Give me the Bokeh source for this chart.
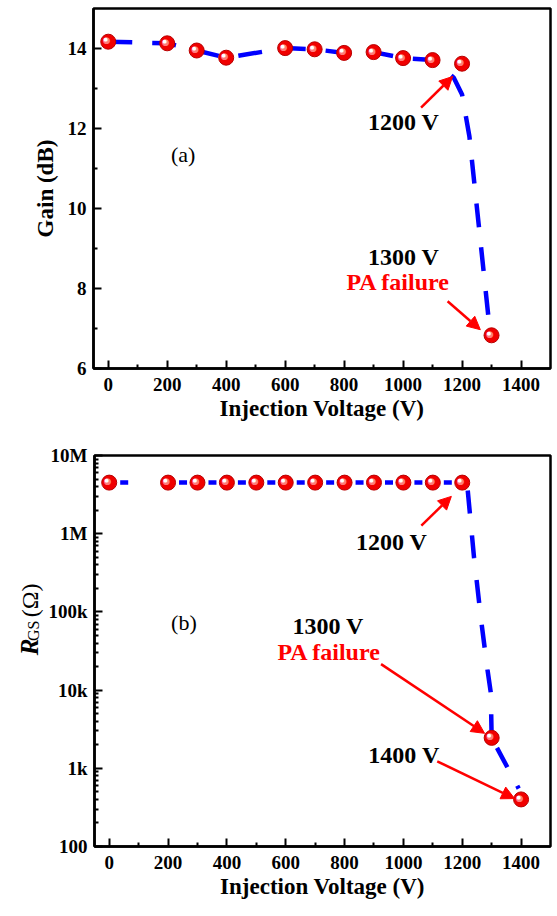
from math import pi
from bokeh.plotting import figure
from bokeh.layouts import column, row
from bokeh.models import Range1d, FixedTicker, Arrow, NormalHead, ColumnDataSource
from bokeh.core.properties import value
from bokeh.embed import file_html
from bokeh.resources import INLINE

# ---------------- data: panel (a) ----------------
gain_voltage = [0, 200, 300, 400, 600, 700, 800, 900, 1000, 1100, 1200, 1300]
gain_db = [14.17, 14.13, 13.95, 13.77, 14.01, 13.98, 13.89, 13.91, 13.76, 13.71, 13.62, 6.83]
# dashed guide line (drawn separately in the original, bends before 1200 V)
gain_line_voltage = [0, 200, 300, 400, 600, 700, 800, 900, 1000, 1100, 1172, 1200, 1225, 1295]
gain_line_db = [14.17, 14.13, 13.95, 13.77, 14.01, 13.98, 13.89, 13.91, 13.76, 13.71, 13.27, 12.85, 11.80, 6.90]

# ---------------- data: panel (b) ----------------
rgs_voltage = [0, 200, 300, 400, 500, 600, 700, 800, 900, 1000, 1100, 1200, 1300, 1400]
rgs_ohm = [4.5e6, 4.5e6, 4.5e6, 4.5e6, 4.5e6, 4.5e6, 4.5e6, 4.5e6, 4.5e6, 4.5e6, 4.5e6, 4.5e6, 2.45e3, 4.0e2]
# dashed guide line: flat part (one dash between neighbouring points) and the drop
rgs_flat_voltage = [0, 200, 300, 400, 500, 600, 700, 800, 900, 1000, 1100, 1200]
rgs_flat_ohm = [4.5e6, 4.5e6, 4.5e6, 4.5e6, 4.5e6, 4.5e6, 4.5e6, 4.5e6, 4.5e6, 4.5e6, 4.5e6, 4.5e6]
rgs_drop_voltage = [1200, 1218, 1240, 1265, 1286, 1297, 1300, 1392]
rgs_drop_ohm = [4.5e6, 3.8e6, 5.0e5, 7.4e4, 1.8e4, 9.3e3, 2.45e3, 5.5e2]

# ticks
x_ticks = [0, 200, 400, 600, 800, 1000, 1200, 1400]
x_minor = [100, 300, 500, 700, 900, 1100, 1300]
gain_ticks = [6, 8, 10, 12, 14]
gain_minor = [7, 9, 11, 13]
log_ticks = [1e2, 1e3, 1e4, 1e5, 1e6, 1e7]
log_tick_labels = ["100", "1k", "10k", "100k", "1M", "10M"]
log_minor = [m * d for d in [1e2, 1e3, 1e4, 1e5, 1e6] for m in [2, 3, 4, 5, 6, 7, 8, 9]]

# annotations panel (a)
a_text = ["1200 V", "1300 V"]
a_text_x = [1002, 1002]
a_text_y = [12.17, 8.78]
a_red_text = ["PA failure"]
a_red_x = [984]
a_red_y = [8.16]
a_tag = "(a)"
a_tag_xy = (254, 11.36)
a_arrows = [((1061, 12.52), (1168, 13.30)), ((1151, 7.68), (1262, 6.97))]

# annotations panel (b)
b_text = ["1200 V", "1300 V", "1400 V"]
b_text_x = [960, 744, 1002]
b_text_y = [7.9e5, 6.6e4, 1.47e3]
b_red_text = ["PA failure"]
b_red_x = [748]
b_red_y = [3.1e4]
b_tag = "(b)"
b_tag_xy = (254, 7.3e4)
b_arrows = [((1061, 1.27e6), (1163, 3.0e6)), ((924, 2.15e4), (1276, 2.8e3)), ((1115, 1.23e3), (1378, 4.1e2))]

FONT = "Liberation Serif"


def style(p):
    p.outline_line_color = "black"
    p.outline_line_width = 2.5
    p.xgrid.visible = False
    p.ygrid.visible = False
    p.background_fill_color = "white"
    p.border_fill_color = "white"
    for ax in (p.xaxis[0], p.yaxis[0]):
        ax.axis_line_width = 2.5
        ax.axis_line_color = "black"
        ax.major_tick_in = 8
        ax.major_tick_out = 0
        ax.minor_tick_in = 4
        ax.minor_tick_out = 0
        ax.major_tick_line_width = 2
        ax.minor_tick_line_width = 2
        ax.major_tick_line_color = "black"
        ax.minor_tick_line_color = "black"
        ax.major_label_text_font = FONT
        ax.major_label_text_font_style = "bold"
        ax.major_label_text_font_size = "19px"
        ax.major_label_text_color = "black"
        ax.axis_label_text_font = FONT
        ax.axis_label_text_font_style = "bold"
        ax.axis_label_text_font_size = "23px"
        ax.axis_label_text_color = "black"
    p.xaxis[0].major_label_standoff = 9
    p.xaxis[0].axis_label_standoff = 2
    p.yaxis[0].major_label_standoff = 7
    p.yaxis[0].axis_label_standoff = 7
    p.xaxis[0].ticker = FixedTicker(ticks=x_ticks, minor_ticks=x_minor)
    p.xaxis[0].axis_label = "Injection Voltage (V)"


def spheres(p, xs, ys):
    src = ColumnDataSource(dict(x=xs, y=ys, t=["\u25cf"] * len(xs)))
    p.scatter("x", "y", source=src, size=15, fill_color="#f00000", line_color="#b80000", line_width=1)
    p.text("x", "y", text="t", source=src, text_color="#ff7a7a", text_font=value("DejaVu Sans"),
           text_font_size="9px", text_align="center", text_baseline="middle", x_offset=-1.5, y_offset=-1.5)
    p.text("x", "y", text="t", source=src, text_color="#ffffff", text_font=value("DejaVu Sans"),
           text_font_size="5px", text_align="center", text_baseline="middle", x_offset=-2.5, y_offset=-2.5)


def annotate(p, txt, tx, ty, rtxt, rx, ry, tag, tag_xy, arrows):
    p.text(tx, ty, text=txt, text_font=value(FONT), text_font_style="bold", text_font_size="24px",
           text_color="black", text_align="center", text_baseline="middle")
    p.text(rx, ry, text=rtxt, text_font=value(FONT), text_font_style="bold", text_font_size="24px",
           text_color="#ff0000", text_align="center", text_baseline="middle")
    p.text([tag_xy[0]], [tag_xy[1]], text=[tag], text_font=value(FONT), text_font_style="normal",
           text_font_size="22px", text_color="black", text_align="center", text_baseline="middle")
    for (x0, y0), (x1, y1) in arrows:
        p.add_layout(Arrow(end=NormalHead(size=13, fill_color="#ff0000", line_color="#ff0000", line_width=1),
                           x_start=x0, y_start=y0, x_end=x1, y_end=y1,
                           line_color="#ff0000", line_width=2.5))


# ---------------- panel (a) ----------------
p1 = figure(width=557, height=430, x_range=Range1d(-50, 1500), y_range=Range1d(6, 15),
            output_backend="svg", toolbar_location=None,
            min_border_left=93, min_border_right=7, min_border_top=8, min_border_bottom=62)
style(p1)
p1.yaxis[0].ticker = FixedTicker(ticks=gain_ticks, minor_ticks=gain_minor)
p1.yaxis[0].axis_label = "Gain (dB)"
p1.line(gain_line_voltage, gain_line_db, line_color="#0000ff", line_width=4.5, line_dash="24 20")
spheres(p1, gain_voltage, gain_db)
annotate(p1, a_text, a_text_x, a_text_y, a_red_text, a_red_x, a_red_y, a_tag, a_tag_xy, a_arrows)

# ---------------- panel (b) ----------------
p2 = figure(width=512, height=486, x_range=Range1d(-50, 1500), y_range=Range1d(100, 1e7),
            y_axis_type="log", output_backend="svg", toolbar_location=None,
            min_border_left=48, min_border_right=7, min_border_top=25, min_border_bottom=70)
style(p2)
p2.yaxis[0].ticker = FixedTicker(ticks=log_ticks, minor_ticks=log_minor)
p2.yaxis[0].major_label_overrides = {float(v): s for v, s in zip(log_ticks, log_tick_labels)}
p2.segment(rgs_flat_voltage[:-1], rgs_flat_ohm[:-1], rgs_flat_voltage[1:], rgs_flat_ohm[1:],
           line_color="#0000ff", line_width=4.5, line_dash="0 11 8 40")
p2.line(rgs_drop_voltage, rgs_drop_ohm, line_color="#0000ff", line_width=4.5,
        line_dash="0 10 23 22 23 22 23 22 23 22 23 22 23 12 22 21 6 30")
spheres(p2, rgs_voltage, rgs_ohm)
annotate(p2, b_text, b_text_x, b_text_y, b_red_text, b_red_x, b_red_y, b_tag, b_tag_xy, b_arrows)

# y-axis title of panel (b): R_GS (Ω), mixed styles, in a narrow side strip
lab = figure(width=45, height=486, x_range=Range1d(0, 45), y_range=Range1d(0, 486),
             output_backend="svg", toolbar_location=None, min_border=0)
lab.axis.visible = False
lab.grid.visible = False
lab.outline_line_color = None
lab.background_fill_color = "white"
lab.border_fill_color = "white"
lab.text([29], [248], text=["R"], angle=pi / 2, text_font=value(FONT), text_font_style="bold italic",
         text_font_size="25px", text_align="center", text_baseline="middle", text_color="black")
lab.text([33], [268], text=["GS"], angle=pi / 2, text_font=value(FONT), text_font_style="normal",
         text_font_size="16px", text_align="center", text_baseline="middle", text_color="black")
lab.text([29], [306], text=["(\u03a9)"], angle=pi / 2, text_font=value(FONT), text_font_style="normal",
         text_font_size="24px", text_align="center", text_baseline="middle", text_color="black")

layout = column(p1, row(lab, p2, spacing=0), spacing=0)
open("out.html", "w").write(file_html(layout, INLINE))
